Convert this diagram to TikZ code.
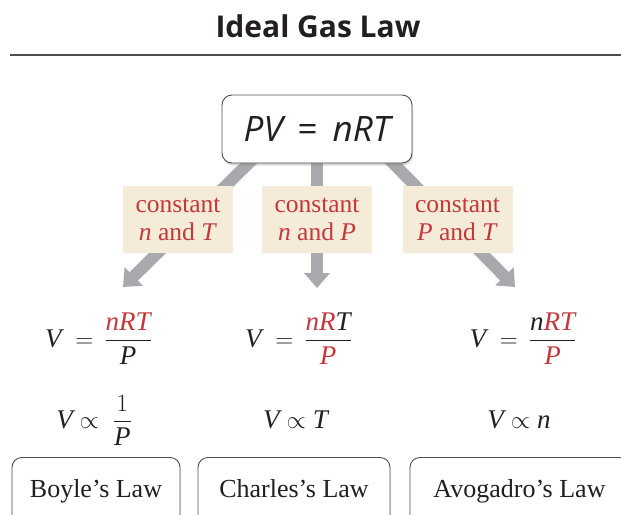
\documentclass[tikz,border=0pt]{standalone}
\usepackage{amsmath}
\usepackage{fontspec}
\setmainfont{Liberation Serif}
\newfontfamily\gassans{Open Sans}
\usetikzlibrary{arrows.meta, positioning, shadows, backgrounds}
\definecolor{GLred}{HTML}{C4383C}
\definecolor{GLsand}{HTML}{F4ECD9}
\definecolor{GLgray}{HTML}{A7A9AC}
\definecolor{GLink}{HTML}{231F20}
\definecolor{GLrule}{HTML}{4D4D4F}
\tikzset{
  glbox/.style={
    rectangle, rounded corners=10pt, draw=GLink!80, line width=0.9pt,
    fill=white, text=GLink, align=center, inner sep=0pt},
  gltop/.style={glbox, minimum width=190pt, minimum height=68pt,
    font=\gassans\fontsize{35}{40}\selectfont\itshape,
    drop shadow={opacity=0.3, shadow xshift=1pt, shadow yshift=-2.5pt}},
  gllaw/.style={glbox, minimum height=68pt, text height=18pt, text depth=6pt,
    font=\fontsize{26}{30}\selectfont,
    drop shadow={opacity=0.15, shadow xshift=1pt, shadow yshift=-1.5pt}},
  glcond/.style={rectangle, fill=GLsand, text=GLred, align=center,
    minimum width=110pt, minimum height=67pt, inner sep=0pt,
    font=\fontsize{25.5}{28}\selectfont},
  gleq/.style={inner sep=0pt, anchor=base, text=GLink,
    font=\fontsize{27}{31}\selectfont},
  gltitle/.style={anchor=base, text=GLink,
    font=\gassans\fontsize{30}{34}\selectfont\bfseries},
  glarr/.style={-{Triangle[length=15pt,width=25pt]}, line width=12pt, draw=GLgray},
}

\begin{document}
\begin{tikzpicture}[x=1pt, y=-1pt]
  \useasboundingbox (0,0) rectangle (621,514);
  %% Title and rule
  \node[gltitle] (title) at (318,37) {Ideal Gas Law};
  \draw[line width=1.6pt, GLrule] (10,55) -- (621,55);
  %% Row 1: the law
  \node[gltop] (top) at (317,129) {PV \,\textup{=}\, nRT};
  %% Row 2: what is held constant
  \node[glcond, below=22pt of top, xshift=-139pt] (condB)
        {constant\\\textit{n} and \textit{T}};
  \node[glcond, below=22pt of top] (condC)
        {constant\\\textit{n} and \textit{P}};
  \node[glcond, below=22pt of top, xshift=140.5pt] (condA)
        {constant\\\textit{P} and \textit{T}};
  %% Row 3: solved for V
  \node[gleq] (eqB) at (98.5,347)
        {$\textit{V} \;=\, \dfrac{\textcolor{GLred}{\textit{nRT}}}{\textit{P}}$};
  \node[gleq] (eqC) at (298.5,347)
        {$\textit{V} \;=\, \dfrac{\textcolor{GLred}{\textit{nR}}\textit{T}}{\textcolor{GLred}{\textit{P}}}$};
  \node[gleq] (eqA) at (523,347)
        {$\textit{V} \;=\, \dfrac{\textit{n}\textcolor{GLred}{\textit{RT}}}{\textcolor{GLred}{\textit{P}}}$};
  %% Row 4: proportionality
  \node[gleq] (prB) at (94,428) {$\textit{V} \propto \;\dfrac{1}{\textit{P}}$};
  \node[gleq] (prC) at (295.5,428) {$\textit{V} \propto \textit{T}$};
  \node[gleq] (prA) at (519,428) {$\textit{V} \propto \textit{n}$};
  %% Row 5: the named laws
  \node[gllaw, anchor=north, minimum width=168pt] (boyle) at (96,457) {Boyle’s Law};
  \node[gllaw, anchor=north, minimum width=192pt] (charles) at (294,457) {Charles’s Law};
  \node[gllaw, anchor=north, minimum width=219pt] (avo) at (519.5,457) {Avogadro’s Law};
  %% Arrows
  \coordinate (tipB) at (123,287);
  \coordinate (tipC) at (317,288);
  \coordinate (tipA) at (515,287);
  \begin{scope}[on background layer]
    \draw[glarr] ([xshift=37pt,yshift=10pt]top.south west) -- (tipB);
    \draw[glarr] ([yshift=10pt]top.south) -- (tipC);
    \draw[glarr] ([xshift=-29pt,yshift=10pt]top.south east) -- (tipA);
  \end{scope}
\end{tikzpicture}
\end{document}
